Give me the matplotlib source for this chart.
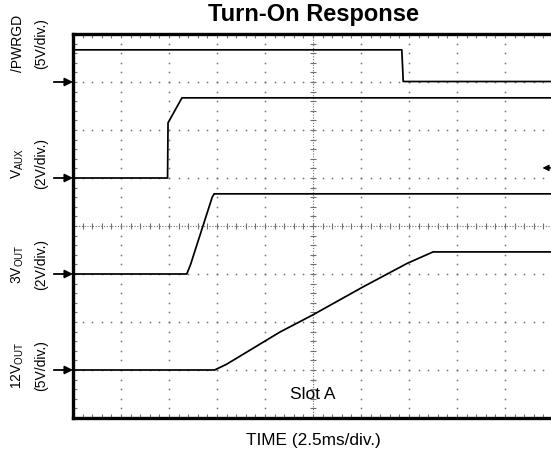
import numpy as np
import matplotlib
matplotlib.use("Agg")
import matplotlib.pyplot as plt

plt.rcParams['font.family'] = ['Liberation Sans', 'DejaVu Sans']
plt.rcParams['mathtext.fontset'] = 'custom'
plt.rcParams['mathtext.rm'] = 'Liberation Sans'

# traces, in scope divisions (x: 0..10, y: 0..8 from the bottom)
pwrgd_x = [0.0, 6.85, 6.88, 10.0]
pwrgd_y = [7.67, 7.67, 7.01, 7.01]

vaux_x = [0.0, 1.97, 1.98, 2.27, 10.0]
vaux_y = [5.0, 5.0, 6.15, 6.67, 6.67]

v3_x = [0.0, 2.37, 2.45, 2.90, 2.94, 10.0]
v3_y = [3.0, 3.0, 3.2, 4.6, 4.67, 4.67]

v12_x = [0.0, 2.95, 3.2, 4.31, 5.0, 6.04, 6.96, 7.5, 10.0]
v12_y = [1.0, 1.0, 1.12, 1.79, 2.15, 2.73, 3.22, 3.46, 3.46]

# channel ground markers and labels
ch_ground = [7, 5, 3, 1]
ch_name = ['/PWRGD', r'V$_{\mathrm{AUX}}$', r'3V$_{\mathrm{OUT}}$', r'12V$_{\mathrm{OUT}}$']
ch_scale = ['(5V/div.)', '(2V/div.)', '(2V/div.)', '(5V/div.)']
ch_label_y = [7.8, 5.3, 3.2, 1.1]

trig_level = 5.21

fig = plt.figure(figsize=(5.51, 4.63), dpi=100)
ax = fig.add_axes([73 / 551, 45 / 463, 480 / 551, 384 / 463])
ax.set_xlim(0, 10)
ax.set_ylim(0, 8)

# dotted graticule
gc = '#707070'
fine = np.arange(0.2, 8.0, 0.2)
fine_x = np.arange(0.2, 10.0, 0.2)
for gx in range(1, 10):
    if gx == 5:
        continue
    ax.plot([gx] * len(fine), fine, ls='none', marker='s', ms=1.1,
            mec='none', mfc=gc)
for gy in range(1, 8):
    if gy == 4:
        continue
    ax.plot(fine_x, [gy] * len(fine_x), ls='none', marker='s', ms=1.1,
            mec='none', mfc=gc)

# center axes with tick marks
ax.axvline(5, color=gc, lw=0.8, dashes=(1, 1.5))
ax.axhline(4, color=gc, lw=0.8, dashes=(1, 1.5))
ax.hlines(fine, 4.94, 5.06, color=gc, lw=0.8)
ax.vlines(fine_x, 3.94, 4.06, color=gc, lw=0.8)

# frame
for side in ['left', 'top', 'bottom']:
    ax.spines[side].set_linewidth(2.4)
ax.spines['right'].set_visible(False)
ax.set_xticks(np.arange(0, 10.01, 1))
ax.set_yticks(np.arange(0, 8.01, 1))
ax.set_xticks(fine_x, minor=True)
ax.set_yticks(fine, minor=True)
ax.tick_params(which='both', direction='in', length=3, width=0.8,
               color=gc, top=True, right=False,
               labelleft=False, labelbottom=False)

# traces
for tx, ty in [(pwrgd_x, pwrgd_y), (vaux_x, vaux_y), (v3_x, v3_y), (v12_x, v12_y)]:
    ax.plot(tx, ty, color='black', lw=1.25)

# ground arrows and labels
for g, name, scale, ly in zip(ch_ground, ch_name, ch_scale, ch_label_y):
    ax.annotate('', xy=(0.0, g), xytext=(-0.4, g), annotation_clip=False,
                arrowprops=dict(arrowstyle='-|>', color='black', lw=1.3,
                                mutation_scale=12, shrinkA=0, shrinkB=0))
    fig.text(18 / 551, (45 + ly * 48) / 463, name, rotation=90,
             ha='center', va='center', fontsize=10)
    fig.text(41 / 551, (45 + ly * 48) / 463, scale, rotation=90,
             ha='center', va='center', fontsize=10)

# trigger level marker
ax.annotate('', xy=(9.78, trig_level), xytext=(9.98, trig_level),
            annotation_clip=False,
            arrowprops=dict(arrowstyle='-|>', color='black', lw=1.0,
                            mutation_scale=9, shrinkA=0, shrinkB=0))

ax.text(5.0, 0.48, 'Slot A', ha='center', va='center', fontsize=12.5)
fig.text(313 / 551, 1 - 15 / 463, 'Turn-On Response', ha='center',
         va='center', fontsize=17, fontweight='bold')
fig.text(313 / 551, 1 - 440 / 463, 'TIME (2.5ms/div.)', ha='center',
         va='center', fontsize=12.4)

fig.savefig('out.png', dpi=100)
